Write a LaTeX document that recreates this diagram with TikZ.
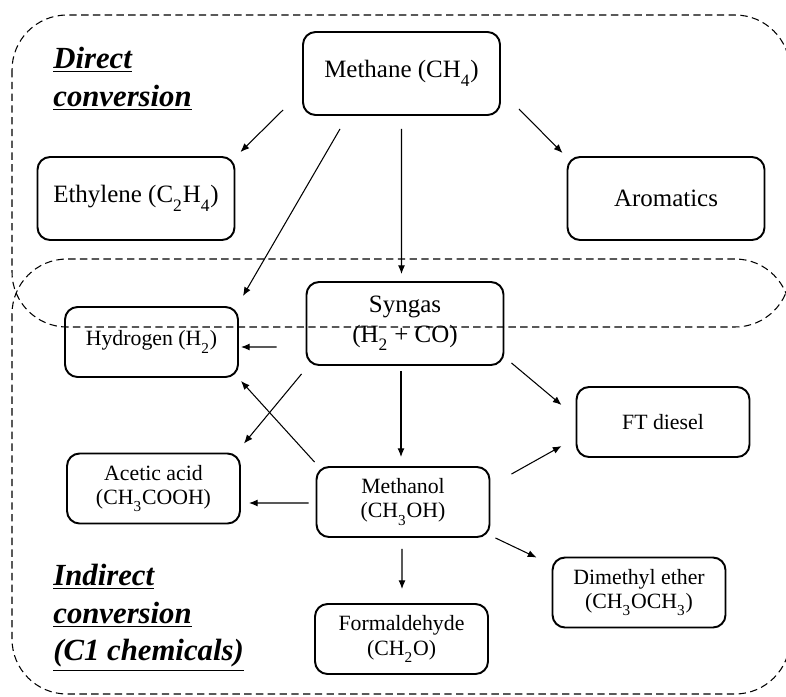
\documentclass[tikz,border=0pt]{standalone}
\usepackage{fontspec}
\setmainfont{Liberation Serif}
\usetikzlibrary{arrows.meta, positioning}

\newcommand{\chsub}[1]{\raisebox{-0.4ex}{\textsubscript{#1}}}

\begin{document}
\begin{tikzpicture}[x=0.02cm, y=-0.02cm,
    bigbox/.style={draw, line width=1.1pt, rounded corners=0.25cm, minimum width=3.94cm, minimum height=1.66cm, align=center, inner sep=2pt, font=\fontsize{14.2}{17}\selectfont},
    smallbox/.style={draw, line width=1.1pt, rounded corners=0.25cm, minimum width=3.46cm, minimum height=1.4cm, align=center, inner sep=2pt, font=\fontsize{12.4}{13.7}\selectfont},
    region/.style={draw, dash pattern=on 4.2pt off 2.5pt, line width=0.6pt, rounded corners=1.1cm},
    regionlabel/.style={anchor=north west, inner sep=0pt, align=left, font=\fontsize{17.5}{21.4}\selectfont\bfseries\itshape},
    arr/.style={-{Latex[length=5pt,width=4pt]}, line width=0.6pt}]

  \useasboundingbox (0,0) rectangle (786,696);

  % dashed regions
  \draw[region] (12,15) rectangle (790,327);
  \draw[region] (12,259) rectangle (790,694);

  \node[regionlabel] (direct) at (53,47) {\underline{Direct}\\\underline{conversion}};
  \node[regionlabel] (indirect) at (53,564) {\underline{Indirect}\\\underline{conversion}\\\underline{(C1 chemicals)}};

  % products
  \node[bigbox] (methane) at (401.5,73.5) {Methane (CH\chsub{4})};
  \node[bigbox] (ethylene) at (136,198.5) {Ethylene (C\chsub{2}H\chsub{4})};
  \node[bigbox] (aromatics) at (666,198.5) {Aromatics};
  \node[bigbox] (syngas) at (405,323.5) {Syngas\\(H\chsub{2} + CO)};
  \node[smallbox] (hydrogen) at (151.5,342) {Hydrogen (H\chsub{2})};
  \node[smallbox] (ftdiesel) at (663,422) {FT diesel};
  \node[smallbox] (acetic) at (153.5,488.5) {Acetic acid\\(CH\chsub{3}COOH)};
  \node[smallbox] (methanol) at (403,502) {Methanol\\(CH\chsub{3}OH)};
  \node[smallbox] (dme) at (639,592.5) {Dimethyl ether\\(CH\chsub{3}OCH\chsub{3})};
  \node[smallbox] (formaldehyde) at (401.5,639) {Formaldehyde\\(CH\chsub{2}O)};

  % reactions
  \draw[arr] ([shift={(-19,-6)}]methane.south west) -- ([shift={(5,-4)}]ethylene.north east);
  \draw[arr] ([shift={(-61.5,13)}]methane.south) -- ([shift={(4,-10)}]hydrogen.north east);
  \draw[arr] ([shift={(0,13)}]methane.south) -- ([shift={(-3.5,-7)}]syngas.north);
  \draw[arr] ([shift={(18,-7)}]methane.south east) -- ([shift={(-4,-3)}]aromatics.north west);
  \draw[arr] ([shift={(-29,23.5)}]syngas.west) -- ([shift={(2,5)}]hydrogen.east);
  \draw[arr] ([shift={(-4,8)}]syngas.south west) -- ([shift={(3,-9)}]acetic.north east);
  \draw[arr] ([shift={(-4,5)}]syngas.south) -- ([shift={(-2,-9)}]methanol.north);
  \draw[arr] ([shift={(7,-3)}]syngas.south east) -- ([shift={(-14,-17)}]ftdiesel.west);
  \draw[arr] ([shift={(21,8)}]methanol.north east) -- ([shift={(-14,24)}]ftdiesel.west);
  \draw[arr] ([shift={(-1,-4)}]methanol.north west) -- ([shift={(2,3)}]hydrogen.south east);
  \draw[arr] ([shift={(-7,1)}]methanol.west) -- ([shift={(8,14.5)}]acetic.east);
  \draw[arr] ([shift={(5,0)}]methanol.south east) -- ([shift={(-15,1)}]dme.north west);
  \draw[arr] ([shift={(-1,11)}]methanol.south) -- ([shift={(0.5,-14)}]formaldehyde.north);
\end{tikzpicture}
\end{document}
